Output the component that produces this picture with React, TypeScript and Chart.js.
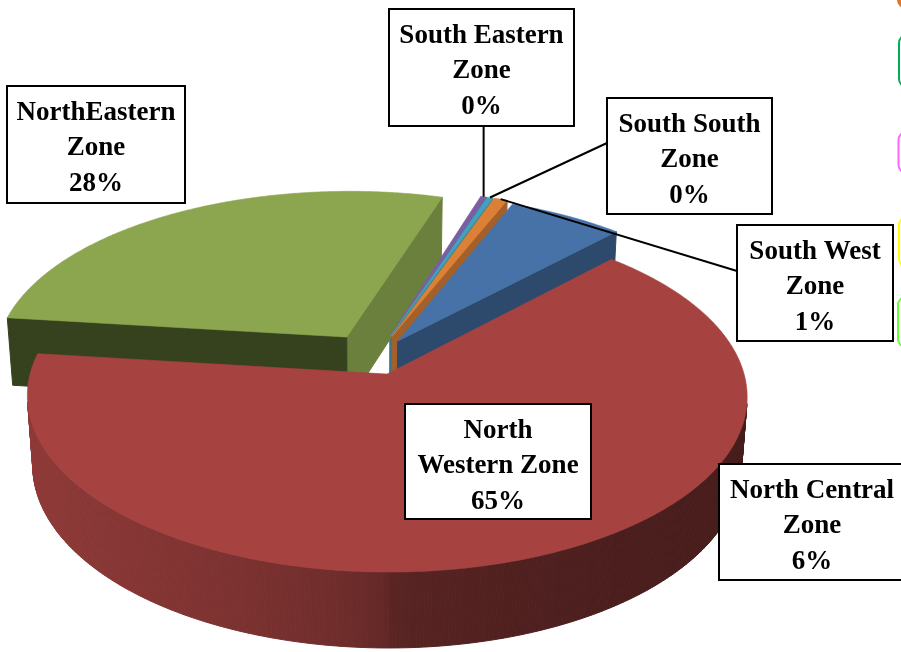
import { useEffect, useRef } from "react";
import { Chart, registerables } from "chart.js";

Chart.register(...registerables);

// ---- data ----
const categories = [
  "North Central Zone",
  "North Western Zone",
  "NorthEastern Zone",
  "South Eastern Zone",
  "South South Zone",
  "South West Zone",
];
const labelLines = [
  ["North Central", "Zone"],
  ["North", "Western Zone"],
  ["NorthEastern", "Zone"],
  ["South Eastern", "Zone"],
  ["South South", "Zone"],
  ["South West", "Zone"],
];
const values = [6.0, 64.8, 27.9, 0.3, 0.3, 0.7];

// ---- styles ----
const topColors = ["#4672A8", "#A64341", "#8BA64E", "#7B5EA1", "#43A1BD", "#DC8036"];
const explode = [0.12, 0.1, 0.15, 0.14, 0.14, 0.14];

const PHI = (28.6 * Math.PI) / 180;
const K = 8;
const DEPTH = 0.226;

type Pt = { x: number; y: number; d: number };

function makeProj(cx: number, cy: number, S: number) {
  const c = Math.cos(PHI), s = Math.sin(PHI);
  const D = K * c;
  const F = S * D;
  return (x: number, far: number, h: number): Pt => {
    const z = -far;
    const yc = h * c - z * s;
    const zc = D - (h * s + z * c);
    return { x: cx + (F * x) / zc, y: cy - (F * yc) / zc, d: zc };
  };
}

function hexToRgb(h: string) {
  const n = parseInt(h.slice(1), 16);
  return [(n >> 16) & 255, (n >> 8) & 255, n & 255];
}
function shade(rgb: number[], f: number) {
  return `rgb(${rgb.map((v) => Math.max(0, Math.min(255, Math.round(v * f)))).join(",")})`;
}
function area(q: Pt[]) {
  let a = 0;
  for (let i = 0; i < q.length; i++) {
    const p = q[i], n = q[(i + 1) % q.length];
    a += p.x * n.y - n.x * p.y;
  }
  return a / 2;
}
function avgD(q: Pt[]) {
  return q.reduce((s, p) => s + p.d, 0) / q.length;
}
function outerFactor(t: number) {
  const sn = Math.sin(t);
  return sn < 0 ? 0.56 + 0.3 * Math.sqrt(-sn) : 0.42 + 0.14 * (1 - Math.sqrt(sn));
}
function wallFactor(n: number) {
  const deg = (((n * 180) / Math.PI) % 360 + 360) % 360;
  return Math.max(0.3, Math.min(0.95, 0.77 - (deg - 107) * 0.00475));
}

const anchors: Record<number, Pt> = {};

const pie3d = {
  id: "pie3d",
  beforeDatasetsDraw(chart: any) {
    const ctx: CanvasRenderingContext2D = chart.ctx;
    const arcs = chart.getDatasetMeta(0).data;
    if (!arcs.length) return false;
    const a0 = arcs[0];
    const P = makeProj(a0.x, a0.y, a0.outerRadius * 1.2);
    const sides: { poly: Pt[]; color: string; d: number }[] = [];
    const tops: { poly: Pt[]; color: string }[] = [];
    arcs.forEach((arc: any, i: number) => {
      const t1 = arc.startAngle + Math.PI / 2;
      const t2 = arc.endAngle + Math.PI / 2;
      if (t2 - t1 <= 1e-6) return;
      const m = (t1 + t2) / 2;
      const e = explode[i];
      const ox = e * Math.sin(m), of = e * Math.cos(m);
      const pt = (t: number, h: number) => P(ox + Math.sin(t), of + Math.cos(t), h);
      const ap = (h: number) => P(ox, of, h);
      const base = hexToRgb(topColors[i]);
      const n = Math.max(2, Math.ceil((t2 - t1) / ((0.5 * Math.PI) / 180)));
      const topPoly = [ap(0)];
      for (let k = 0; k <= n; k++) topPoly.push(pt(t1 + ((t2 - t1) * k) / n, 0));
      tops.push({ poly: topPoly, color: topColors[i] });
      anchors[i] = pt(m, 0);
      for (let k = 0; k < n; k++) {
        const a = t1 + ((t2 - t1) * k) / n;
        const b = t1 + ((t2 - t1) * (k + 1)) / n;
        const q = [pt(a, 0), pt(b, 0), pt(b, -DEPTH), pt(a, -DEPTH)];
        if (area(q) < 0) sides.push({ poly: q, color: shade(base, outerFactor((a + b) / 2)), d: avgD(q) });
      }
      const sw = [ap(0), pt(t1, 0), pt(t1, -DEPTH), ap(-DEPTH)];
      if (area(sw) < 0) sides.push({ poly: sw, color: shade(base, wallFactor(t1 - Math.PI / 2)), d: avgD(sw) });
      const ew = [pt(t2, 0), ap(0), ap(-DEPTH), pt(t2, -DEPTH)];
      if (area(ew) < 0) sides.push({ poly: ew, color: shade(base, wallFactor(t2 + Math.PI / 2)), d: avgD(ew) });
    });
    sides.sort((p, q) => q.d - p.d);
    const fillPoly = (poly: Pt[], color: string, lw: number) => {
      ctx.beginPath();
      poly.forEach((p, k) => (k ? ctx.lineTo(p.x, p.y) : ctx.moveTo(p.x, p.y)));
      ctx.closePath();
      ctx.fillStyle = color;
      ctx.fill();
      if (lw > 0) {
        ctx.strokeStyle = color;
        ctx.lineWidth = lw;
        ctx.lineJoin = "round";
        ctx.stroke();
      }
    };
    ctx.save();
    sides.forEach((s) => fillPoly(s.poly, s.color, 1));
    tops.forEach((t) => fillPoly(t.poly, t.color, 0.6));
    ctx.restore();
    return false;
  },
};

const labelBoxes = [
  { i: 0, x1: 719, y1: 464, x2: 905, y2: 580, anchor: "none", ay: 0 },
  { i: 1, x1: 405, y1: 404, x2: 591, y2: 519, anchor: "none", ay: 0 },
  { i: 2, x1: 7, y1: 86, x2: 185, y2: 203, anchor: "none", ay: 0 },
  { i: 3, x1: 389, y1: 9, x2: 574, y2: 126, anchor: "bottom", ay: 0 },
  { i: 4, x1: 607, y1: 98, x2: 772, y2: 214, anchor: "left", ay: 143 },
  { i: 5, x1: 737, y1: 225, x2: 893, y2: 341, anchor: "left", ay: 271 },
];

const legendBits = [
  { x: 897, y: -40, h: 48, color: "#E8761E", fill: true },
  { x: 899, y: 35, h: 52, color: "#00B050", fill: false },
  { x: 898.5, y: 132, h: 41, color: "#FF66FF", fill: false },
  { x: 899, y: 217, h: 50, color: "#FFFF00", fill: false },
  { x: 898, y: 297, h: 50, color: "#66FF33", fill: false },
];

const labelsPlugin = {
  id: "labels3d",
  afterDraw(chart: any) {
    const ctx: CanvasRenderingContext2D = chart.ctx;
    const total = values.reduce((s, v) => s + v, 0);
    ctx.save();
    legendBits.forEach((b) => {
      ctx.beginPath();
      ctx.roundRect(b.x, b.y, 40, b.h, 8);
      if (b.fill) {
        ctx.fillStyle = b.color;
        ctx.fill();
      } else {
        ctx.strokeStyle = b.color;
        ctx.lineWidth = 2;
        ctx.stroke();
      }
    });
    ctx.strokeStyle = "#000";
    ctx.lineWidth = 2;
    labelBoxes.forEach((b) => {
      const a = anchors[b.i];
      if (!a || b.anchor === "none") return;
      ctx.beginPath();
      if (b.anchor === "bottom") ctx.moveTo(a.x, b.y2);
      else ctx.moveTo(b.x1, b.ay);
      ctx.lineTo(a.x, a.y);
      ctx.stroke();
    });
    ctx.font = "bold 27px 'Liberation Serif'";
    ctx.textAlign = "center";
    ctx.textBaseline = "alphabetic";
    labelBoxes.forEach((b) => {
      ctx.fillStyle = "#fff";
      ctx.fillRect(b.x1, b.y1, b.x2 - b.x1, b.y2 - b.y1);
      ctx.strokeStyle = "#000";
      ctx.lineWidth = 2;
      ctx.strokeRect(b.x1, b.y1, b.x2 - b.x1, b.y2 - b.y1);
      const lines = [...labelLines[b.i], Math.round((values[b.i] / total) * 100) + "%"];
      ctx.fillStyle = "#000";
      const cx = (b.x1 + b.x2) / 2;
      lines.forEach((t, k) => ctx.fillText(t, cx, b.y1 + 33.5 + k * 35.5));
    });
    ctx.restore();
  },
};

export default function App() {
  const ref = useRef<HTMLCanvasElement>(null);
  useEffect(() => {
    const chart = new Chart(ref.current as HTMLCanvasElement, {
      type: "pie",
      data: {
        labels: categories,
        datasets: [{ data: values, backgroundColor: topColors, borderWidth: 0 }],
      },
      options: {
        responsive: false,
        animation: false,
        rotation: 22,
        events: [],
        layout: { padding: { left: 0, right: 151, top: 64, bottom: 0 } },
        plugins: { legend: { display: false }, tooltip: { enabled: false } },
      },
      plugins: [pie3d, labelsPlugin],
    } as any);
    return () => chart.destroy();
  }, []);
  return (
    <div style={{ position: "fixed", left: 0, top: 0, width: 901, height: 652, background: "#fff" }}>
      <canvas ref={ref} width={901} height={652} style={{ display: "block", width: 901, height: 652 }} />
    </div>
  );
}
